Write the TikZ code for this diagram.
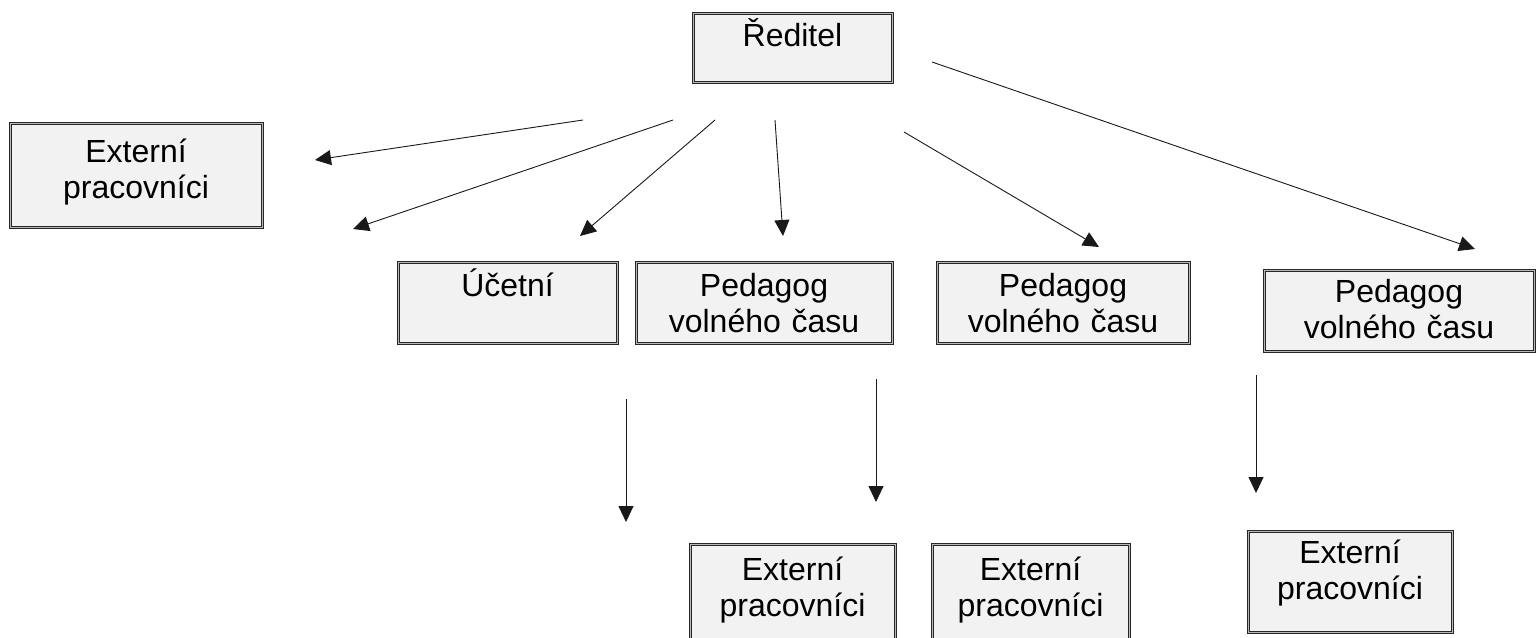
\documentclass[tikz,border=0pt]{standalone}
\usepackage{fontspec}
\setmainfont{Liberation Sans}
\usetikzlibrary{arrows.meta,positioning}

\tikzset{
    unit/.style={draw=black!85, line width=1pt, double=gray!55, double distance=1pt,
        fill=black!5, inner sep=0pt, align=center,
        font=\fontsize{32}{36.5}\selectfont},
    link/.style={line width=0.9pt, black!90, -{Triangle[length=16pt, width=15pt]}}
}

\begin{document}
\begin{tikzpicture}[x=1pt, y=-1pt]
    \useasboundingbox (0,0) rectangle (1536,637);

    % Top and left boxes
    \node[unit, text width=199pt, text height=33pt, text depth=36pt] (dir) at (792.5,47.5) {Ředitel};
    \node[unit, text width=252pt, text height=39pt, text depth=65pt] (ext0) at (136,175) {Externí\\pracovníci};

    % Middle row
    \node[unit, text width=219pt, text height=34pt, text depth=47pt] (ucetni) at (507.5,302.5) {Účetní};
    \node[unit, text width=256pt, text height=34pt, text depth=47pt, right=18pt of ucetni] (ped1) {Pedagog\\volného času};
    \node[unit, text width=252pt, text height=34pt, text depth=47pt, right=44pt of ped1] (ped2) {Pedagog\\volného času};
    \node[unit, text width=270pt, text height=32pt, text depth=49pt] (ped3) at (1399,310.5) {Pedagog\\volného času};

    % Bottom row
    \node[unit, text width=205pt, text height=36pt, text depth=65pt] (ext1) at (792.5,594.5) {Externí\\pracovníci};
    \node[unit, text width=197pt, text height=36pt, text depth=65pt, right=36pt of ext1] (ext2) {Externí\\pracovníci};
    \node[unit, text width=204pt, text height=32pt, text depth=69pt] (ext3) at (1350,581.5) {Externí\\pracovníci};

    % Arrow ends
    \foreach \i/\sx/\sy/\tx/\ty in {1/583/120/315/160, 2/673/120/353/229, 3/715/120/580/236,
        4/775/120/783/236, 5/904/132/1099/247, 6/932/62/1475/249,
        7/626/399/626/522, 8/876/379/876/502, 9/1256/375/1256/493} {
        \coordinate (s\i) at (\sx,\sy);
        \coordinate (t\i) at (\tx,\ty);
    }

    % Draw arrows
    \foreach \i in {1,...,9}
        \draw[link] (s\i) -- (t\i);
\end{tikzpicture}
\end{document}
